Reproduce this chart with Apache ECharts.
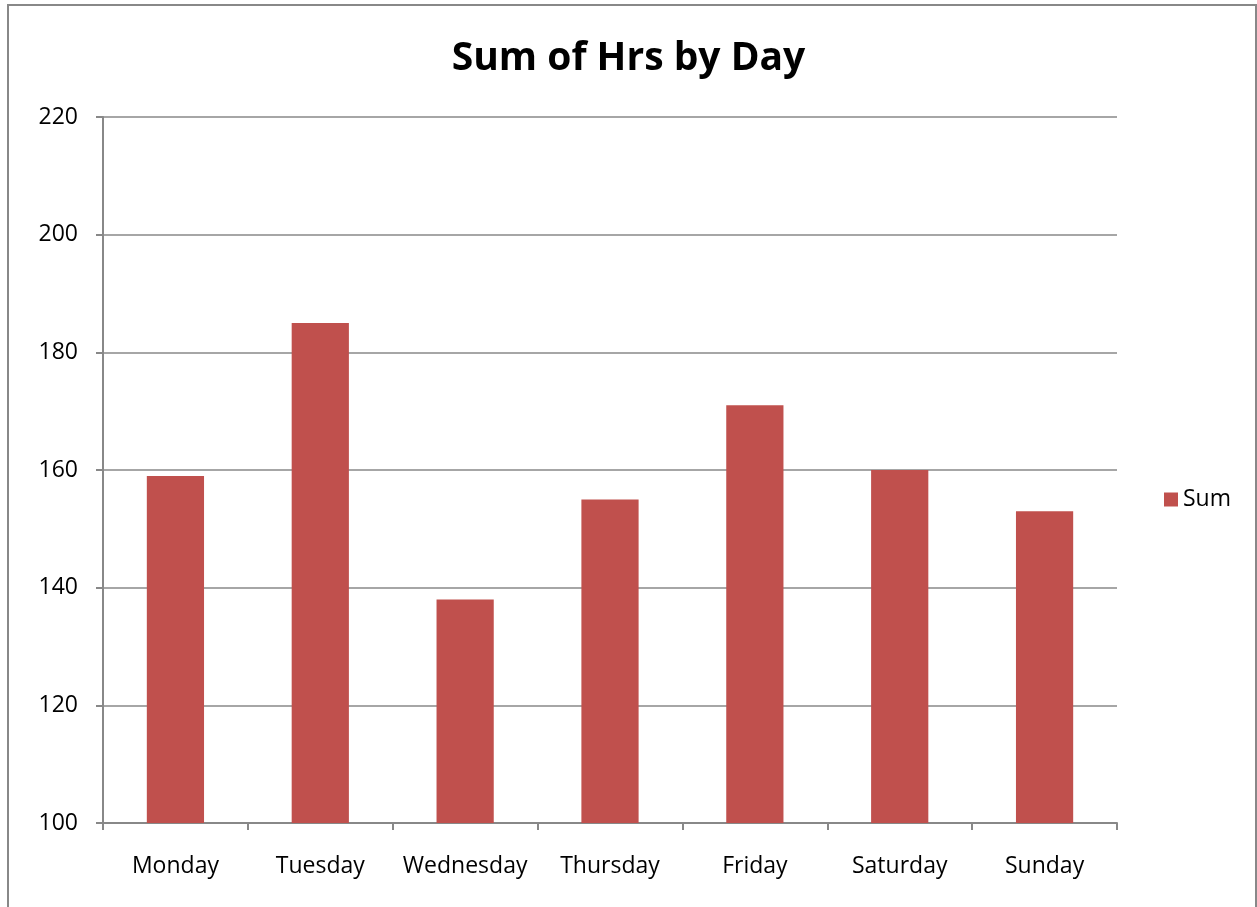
<!DOCTYPE html>
<html>
<head>
<meta charset="utf-8">
<script src="https://cdn.jsdelivr.net/npm/echarts@6/dist/echarts.min.js"></script>
<style>
  html, body { margin: 0; padding: 0; background: #fff; }
  #main { width: 1257px; height: 907px; }
</style>
</head>
<body>
<div id="main"></div>
<script>
var days = ['Monday', 'Tuesday', 'Wednesday', 'Thursday', 'Friday', 'Saturday', 'Sunday'];
var sumHrs = [159, 185, 138, 155, 171, 160, 153];
var yTicks = [100, 120, 140, 160, 180, 200, 220];

var dom = document.getElementById('main');
var myChart = echarts.init(dom);
var fontFam = '"Open Sans", "Liberation Sans", sans-serif';

var option = {
    animation: false,
    textStyle: { fontFamily: fontFam },
    graphic: [{
        type: 'rect',
        shape: { x: 8, y: 5, width: 1248, height: 920 },
        style: { fill: 'none', stroke: '#888', lineWidth: 2 },
        silent: true
    }],
    title: {
        text: 'Sum of Hrs by Day',
        left: 'center',
        top: 34,
        textStyle: { fontSize: 39, fontWeight: 'bold', color: '#000', fontFamily: fontFam }
    },
    legend: {
        data: ['Sum'],
        orient: 'vertical',
        left: 1159,
        top: 483,
        itemWidth: 14,
        itemHeight: 14,
        itemGap: 6,
        icon: 'rect',
        textStyle: { fontSize: 23, color: '#000', fontFamily: fontFam }
    },
    grid: {
        left: 103,
        right: 140,
        top: 117,
        bottom: 84
    },
    xAxis: {
        type: 'category',
        data: days,
        boundaryGap: true,
        axisLine: { lineStyle: { color: '#888', width: 2 } },
        axisTick: { show: true, length: 7, alignWithLabel: false, lineStyle: { color: '#888', width: 2 } },
        axisLabel: { fontSize: 23, color: '#000', margin: 32, fontFamily: fontFam, interval: 0 },
        splitLine: { show: false }
    },
    yAxis: {
        type: 'value',
        min: yTicks[0],
        max: yTicks[yTicks.length - 1],
        interval: 20,
        axisLine: { show: true, lineStyle: { color: '#888', width: 2 } },
        axisTick: { show: true, length: 7, lineStyle: { color: '#888', width: 2 } },
        axisLabel: { fontSize: 23, color: '#000', margin: 25, fontFamily: fontFam },
        splitLine: { show: true, lineStyle: { color: '#888', width: 1.5 } }
    },
    series: [{
        name: 'Sum',
        type: 'bar',
        data: sumHrs,
        barWidth: '39.5%',
        itemStyle: { color: '#c0504d' }
    }]
};

myChart.setOption(option, true);
</script>
</body>
</html>
